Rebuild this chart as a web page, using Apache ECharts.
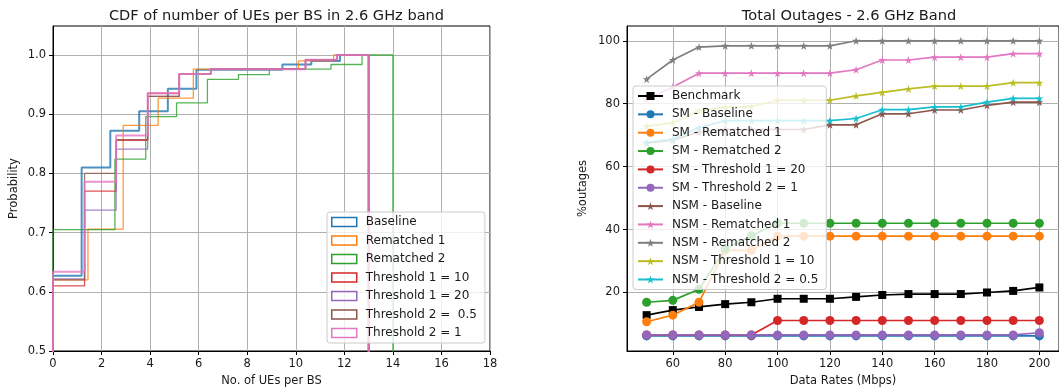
<!DOCTYPE html>
<html>
<head>
<meta charset="utf-8">
<script src="https://cdn.jsdelivr.net/npm/echarts@6/dist/echarts.min.js"></script>
<style>html,body{margin:0;padding:0;background:#fff}#c{width:1059px;height:392px}</style>
</head>
<body>
<div id="c"></div>
<script>
// ---------- Left chart: CDF step histograms ----------
const cdfNames = ['Baseline','Rematched 1','Rematched 2','Threshold 1 = 10','Threshold 1 = 20','Threshold 2 =  0.5','Threshold 2 = 1'];
const edgesBaseline = [0,1.18,2.36,3.55,4.73,5.91,7.09,8.27,9.45,10.64,11.82,13];
const edgesRem1 = [0,1.44,2.89,4.33,5.78,7.22,8.67,10.11,11.56,13];
const edgesRem2 = [0,1.27,2.55,3.82,5.09,6.36,7.64,8.91,10.18,11.45,12.73,14];
const edgesThr = [0,1.3,2.6,3.9,5.2,6.5,7.8,9.1,10.4,11.7,13];
const cdfBaseline = [0.627,0.810,0.872,0.905,0.943,0.975,0.975,0.975,0.984,0.990,1.0];
const cdfRem1 = [0.620,0.706,0.881,0.927,0.976,0.976,0.976,0.990,1.0];
const cdfRem2 = [0.705,0.705,0.824,0.896,0.919,0.959,0.967,0.976,0.976,0.984,1.0];
const cdfT1_10 = [0.610,0.770,0.856,0.935,0.968,0.976,0.976,0.976,0.992,1.0];
const cdfT1_20 = [0.622,0.738,0.841,0.930,0.968,0.976,0.976,0.976,0.992,1.0];
const cdfT2_05 = [0.620,0.800,0.857,0.930,0.968,0.976,0.976,0.976,0.992,1.0];
const cdfT2_1 = [0.634,0.786,0.864,0.936,0.968,0.976,0.976,0.976,0.992,1.0];
const xTicksLeft = [0,2,4,6,8,10,12,14,16,18];
const yTicksLeft = [0.5,0.6,0.7,0.8,0.9,1.0];

// ---------- Right chart: outages ----------
const rates = [50,60,70,80,90,100,110,120,130,140,150,160,170,180,190,200];
const benchmark = [12.8,14.4,15.4,16.3,16.9,18.0,18.0,18.0,18.6,19.2,19.5,19.5,19.5,20.0,20.5,21.6];
const smBaseline = [6.2,6.2,6.2,6.2,6.2,6.2,6.2,6.2,6.2,6.2,6.2,6.2,6.2,6.2,6.2,6.2];
const smRem1 = [10.7,12.8,16.9,33.4,33.4,37.9,37.9,37.9,37.9,37.9,37.9,37.9,37.9,37.9,37.9,37.9];
const smRem2 = [16.9,17.5,21.0,33.9,38.0,42.0,42.0,42.0,42.0,42.0,42.0,42.0,42.0,42.0,42.0,42.0];
const smT1_20 = [6.5,6.5,6.5,6.5,6.5,11.1,11.1,11.1,11.1,11.1,11.1,11.1,11.1,11.1,11.1,11.1];
const smT2_1 = [6.5,6.5,6.5,6.5,6.5,6.5,6.5,6.5,6.5,6.5,6.5,6.5,6.5,6.5,6.5,7.2];
const nsmBaseline = [67.5,68.4,71.0,71.8,71.8,71.8,71.8,73.3,73.3,76.8,76.8,78.0,78.0,79.5,80.5,80.5];
const nsmRem1 = [81.4,85.3,89.7,89.7,89.7,89.7,89.7,89.7,90.8,93.9,93.9,94.8,94.8,94.8,95.9,95.9];
const nsmRem2 = [87.8,93.9,98.0,98.4,98.4,98.4,98.4,98.4,100,100,100,100,100,100,100,100];
const nsmT1_10 = [72.9,73.9,77.8,78.9,79.1,81.1,81.1,81.1,82.5,83.6,84.7,85.6,85.6,85.6,86.7,86.7];
const nsmT2_05 = [67.7,68.7,72.4,74.6,74.6,74.6,74.6,74.6,75.3,78.1,78.1,79.0,79.0,80.5,81.7,81.7];
const xTicksRight = [60,80,100,120,140,160,180,200];
const yTicksRight = [20,40,60,80,100];

const C = ['#1f77b4','#ff7f0e','#2ca02c','#d62728','#9467bd','#8c564b','#e377c2','#7f7f7f','#bcbd22','#17becf'];
const FONT = 'DejaVu Sans';
const TXT = '#1a1a1a';
const STAR = 'path://M50,0 L61.2,34.5 L97.6,34.5 L68.2,55.9 L79.4,90.5 L50,69.1 L20.6,90.5 L31.8,55.9 L2.4,34.5 L38.8,34.5 Z';

function stepPoints(edges, vals) {
  const pts = [[edges[0], 0]];
  for (let i = 0; i < vals.length; i++) {
    pts.push([edges[i], vals[i]]);
    pts.push([edges[i + 1], vals[i]]);
  }
  pts.push([edges[edges.length - 1], 0]);
  return pts;
}

const cdfSets = [
  [edgesBaseline, cdfBaseline, 2.0],
  [edgesRem1, cdfRem1, 1.3],
  [edgesRem2, cdfRem2, 1.3],
  [edgesThr, cdfT1_10, 1.3],
  [edgesThr, cdfT1_20, 1.3],
  [edgesThr, cdfT2_05, 1.3],
  [edgesThr, cdfT2_1, 2.0]
];

const series = [];
cdfSets.forEach((s, i) => {
  series.push({
    name: cdfNames[i], type: 'line', xAxisIndex: 0, yAxisIndex: 0,
    data: stepPoints(s[0], s[1]), symbol: 'none', clip: true,
    lineStyle: { color: C[i], width: s[2], opacity: 0.8 },
    itemStyle: { color: C[i] }, animation: false
  });
});

const rightDefs = [
  ['Benchmark', benchmark, '#000000', 'rect', 8],
  ['SM - Baseline', smBaseline, C[0], 'circle', 9],
  ['SM - Rematched 1', smRem1, C[1], 'circle', 9],
  ['SM - Rematched 2', smRem2, C[2], 'circle', 9],
  ['SM - Threshold 1 = 20', smT1_20, C[3], 'circle', 9],
  ['SM - Threshold 2 = 1', smT2_1, C[4], 'circle', 9],
  ['NSM - Baseline', nsmBaseline, C[5], STAR, 8],
  ['NSM - Rematched 1', nsmRem1, C[6], STAR, 8],
  ['NSM - Rematched 2', nsmRem2, C[7], STAR, 8],
  ['NSM - Threshold 1 = 10', nsmT1_10, C[8], STAR, 8],
  ['NSM - Threshold 2 = 0.5', nsmT2_05, C[9], STAR, 8]
];
rightDefs.forEach(d => {
  series.push({
    name: d[0], type: 'line', xAxisIndex: 1, yAxisIndex: 1,
    data: rates.map((r, i) => [r, d[1][i]]),
    symbol: d[3], symbolSize: d[4], showAllSymbol: true,
    lineStyle: { color: d[2], width: 1.7 },
    itemStyle: { color: d[2], borderWidth: 0 },
    animation: false
  });
});

const axisCommon = {
  axisLine: { show: true, lineStyle: { color: '#000', width: 1 } },
  axisTick: { show: true, length: 4, inside: false, lineStyle: { color: '#000', width: 1 } },
  splitLine: { show: true, lineStyle: { color: '#b0b0b0', width: 1 } },
  nameTextStyle: { fontFamily: FONT, fontSize: 11.5, color: TXT },
  nameLocation: 'middle'
};
const labelCommon = { fontFamily: FONT, fontSize: 11.5, color: TXT, margin: 7 };

const option = {
  backgroundColor: '#fff',
  animation: false,
  title: [
    { text: 'CDF of number of UEs per BS in 2.6 GHz band', left: 271.5, top: 4, textAlign: 'center',
      textStyle: { fontFamily: FONT, fontSize: 14.6, fontWeight: 'normal', color: TXT } },
    { text: 'Total Outages - 2.6 GHz Band', left: 844, top: 4, textAlign: 'center',
      textStyle: { fontFamily: FONT, fontSize: 14.6, fontWeight: 'normal', color: TXT } }
  ],
  grid: [
    { left: 53, top: 26, width: 437, height: 325, show: true, borderColor: '#000', borderWidth: 1, backgroundColor: 'transparent' },
    { left: 627, top: 26, width: 435, height: 325, show: true, borderColor: '#000', borderWidth: 1, backgroundColor: 'transparent' }
  ],
  xAxis: [
    Object.assign({}, axisCommon, {
      type: 'value', gridIndex: 0, min: 0, max: 18, name: 'No. of UEs per BS', nameGap: 24,
      axisTick: Object.assign({}, axisCommon.axisTick, { customValues: xTicksLeft }),
      axisLabel: Object.assign({}, labelCommon, { customValues: xTicksLeft, formatter: v => String(v) })
    }),
    Object.assign({}, axisCommon, {
      type: 'value', gridIndex: 1, min: 42.5, max: 207.5, name: 'Data Rates (Mbps)', nameGap: 24,
      axisTick: Object.assign({}, axisCommon.axisTick, { customValues: xTicksRight }),
      axisLabel: Object.assign({}, labelCommon, { customValues: xTicksRight, formatter: v => String(v) })
    })
  ],
  yAxis: [
    Object.assign({}, axisCommon, {
      type: 'value', gridIndex: 0, min: 0.5, max: 1.049, name: 'Probability', nameGap: 33,
      axisTick: Object.assign({}, axisCommon.axisTick, { customValues: yTicksLeft }),
      axisLabel: Object.assign({}, labelCommon, { customValues: yTicksLeft, formatter: v => v.toFixed(1) })
    }),
    Object.assign({}, axisCommon, {
      type: 'value', gridIndex: 1, min: 1.4, max: 104.7, name: '%outages', nameGap: 38,
      axisTick: Object.assign({}, axisCommon.axisTick, { customValues: yTicksRight }),
      axisLabel: Object.assign({}, labelCommon, { customValues: yTicksRight, formatter: v => String(v) })
    })
  ],
  legend: [
    {
      orient: 'vertical', left: 327, top: 212,
      padding: [4, 8, 4, 4], itemGap: 6.5, itemWidth: 25, itemHeight: 9,
      backgroundColor: 'rgba(255,255,255,0.8)', borderColor: '#cccccc', borderWidth: 1, borderRadius: 3,
      textStyle: { fontFamily: FONT, fontSize: 12, color: TXT, lineHeight: 12, padding: [0, 0, 0, 4] },
      data: cdfNames.map((n, i) => ({ name: n, icon: 'rect',
        itemStyle: { color: 'rgba(255,255,255,0)', borderColor: C[i], borderWidth: 1.5 } })),
      selectedMode: false
    },
    {
      orient: 'vertical', left: 633, top: 86,
      padding: [4, 8, 4, 4], itemGap: 6.35, itemWidth: 25, itemHeight: 10,
      backgroundColor: 'rgba(255,255,255,0.8)', borderColor: '#cccccc', borderWidth: 1, borderRadius: 3,
      textStyle: { fontFamily: FONT, fontSize: 12, color: TXT, lineHeight: 12, padding: [0, 0, 0, 4] },
      data: rightDefs.map(d => d[0]),
      selectedMode: false
    }
  ],
  series: series
};

const chart = echarts.init(document.getElementById('c'), null, { renderer: 'canvas' });
chart.setOption(option);
</script>
</body>
</html>
